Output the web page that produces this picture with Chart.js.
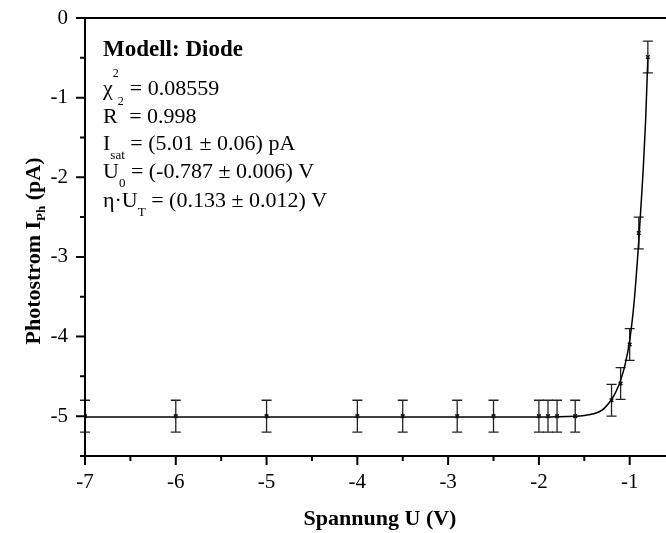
<!DOCTYPE html>
<html>
<head>
<meta charset="utf-8">
<script src="https://cdn.jsdelivr.net/npm/chart.js@4.4.0/dist/chart.umd.min.js"></script>
<style>
  html, body { margin: 0; padding: 0; background: #fff; }
  #wrap { width: 666px; height: 533px; }
</style>
</head>
<body>
<div id="wrap"><canvas id="ivChart" width="666" height="533"></canvas></div>
<script>
// measured points: voltage U (V) and photocurrent (pA), error +-0.2 pA
const uData = [-7, -6, -5, -4, -3.5, -2.9, -2.5, -2, -1.9, -1.8, -1.6, -1.2, -1.1, -1.0, -0.9, -0.8];
const iData = [-5.0, -5.0, -5.0, -5.0, -5.0, -5.0, -5.0, -5.0, -5.0, -5.0, -5.0, -4.8, -4.59, -4.1, -2.7, -0.49];
const iErr = [0.2, 0.2, 0.2, 0.2, 0.2, 0.2, 0.2, 0.2, 0.2, 0.2, 0.2, 0.2, 0.2, 0.2, 0.2, 0.2];

// diode fit curve
const fitU = [-7, -2, -1.6, -1.5, -1.4, -1.3, -1.2, -1.15, -1.1, -1.05, -1.0, -0.95, -0.9, -0.875, -0.85, -0.825, -0.8];
const fitI = [-5.01, -5.01, -5.0, -4.99, -4.97, -4.92, -4.79, -4.69, -4.55, -4.35, -4.05, -3.55, -2.8, -2.35, -1.88, -1.3, -0.5];

const xTicks = [-7, -6, -5, -4, -3, -2, -1];
const xMinor = [-6.5, -5.5, -4.5, -3.5, -2.5, -1.5];
const yTicks = [0, -1, -2, -3, -4, -5];
const yMinor = [-0.5, -1.5, -2.5, -3.5, -4.5, -5.5];

// fit result box, each line as [text, kind] pieces
const fitLines = [
  [["Modell: Diode", "b"]],
  [["\u03C7", "n"], ["2", "sup"], ["  = 0.08559", "n"]],
  [["R", "n"], ["2", "sup"], [" = 0.998", "n"]],
  [["I", "n"], ["sat", "sub"], [" = (5.01 \u00B1 0.06) pA", "n"]],
  [["U", "n"], ["0", "sub"], [" = (-0.787 \u00B1 0.006) V", "n"]],
  [["\u03B7\u00B7U", "n"], ["T", "sub"], [" = (0.133 \u00B1 0.012) V", "n"]]
];
const lineBase = [56, 95, 123, 150, 178, 207];

const SERIF = "'Liberation Serif', 'Times New Roman', serif";

function drawRich(ctx, x, y, parts, size, bold, subDy) {
  parts.forEach(([t, kind]) => {
    let fs = size, dy = 0;
    const w = bold || kind === "b" ? "bold " : "";
    if (kind === "b") fs = size + 1;
    if (kind === "sup") { fs = 12; dy = -18; }
    if (kind === "sub") { fs = 13; dy = subDy; }
    ctx.font = w + fs + "px " + SERIF;
    ctx.fillText(t, x, y + dy);
    x += ctx.measureText(t).width;
  });
}

function richWidth(ctx, parts, size, bold) {
  let w = 0;
  parts.forEach(([t, kind]) => {
    const fs = kind === "sup" ? 12 : kind === "sub" ? 13 : size;
    ctx.font = (bold ? "bold " : "") + fs + "px " + SERIF;
    w += ctx.measureText(t).width;
  });
  return w;
}

const extras = {
  id: "extras",
  afterLayout(chart) {
    // let the plot run to the right edge of the canvas, as in the original
    const x = chart.scales.x;
    chart.chartArea.right = chart.width;
    x.right = chart.width;
    x.width = x.right - x.left;
    x.configure();
  },
  beforeDatasetsDraw(chart) {
    const { ctx, scales: { x, y } } = chart;
    ctx.save();
    ctx.strokeStyle = "#222";
    ctx.lineWidth = 1.3;
    uData.forEach((u, k) => {
      const px = x.getPixelForValue(u);
      const p1 = y.getPixelForValue(iData[k] + iErr[k]);
      const p2 = y.getPixelForValue(iData[k] - iErr[k]);
      ctx.beginPath();
      ctx.moveTo(px, p1); ctx.lineTo(px, p2);
      ctx.moveTo(px - 5, p1); ctx.lineTo(px + 5, p1);
      ctx.moveTo(px - 5, p2); ctx.lineTo(px + 5, p2);
      ctx.stroke();
    });
    ctx.restore();
  },
  afterDraw(chart) {
    const { ctx, chartArea: a, scales: { x, y } } = chart;
    ctx.save();
    ctx.strokeStyle = "#000";
    ctx.lineWidth = 2;
    ctx.beginPath();
    ctx.moveTo(chart.width, a.top); ctx.lineTo(a.left, a.top);
    ctx.lineTo(a.left, a.bottom); ctx.lineTo(chart.width, a.bottom);
    // tick marks
    xTicks.forEach(v => { const p = x.getPixelForValue(v); ctx.moveTo(p, a.bottom); ctx.lineTo(p, a.bottom + 9); });
    xMinor.forEach(v => { const p = x.getPixelForValue(v); ctx.moveTo(p, a.bottom); ctx.lineTo(p, a.bottom + 5); });
    yTicks.forEach(v => { const p = y.getPixelForValue(v); ctx.moveTo(a.left, p); ctx.lineTo(a.left - 9, p); });
    yMinor.forEach(v => { const p = y.getPixelForValue(v); ctx.moveTo(a.left, p); ctx.lineTo(a.left - 5, p); });
    ctx.stroke();

    ctx.fillStyle = "#000";
    ctx.textBaseline = "alphabetic";
    ctx.textAlign = "left";
    fitLines.forEach((parts, k) => drawRich(ctx, 103, lineBase[k], parts, 22, false, 9));

    // axis titles
    const xTitle = [["Spannung U (V)", "n"]];
    const xw = richWidth(ctx, xTitle, 22, true);
    drawRich(ctx, 380 - xw / 2, 525, xTitle, 22, true, 0);

    const yTitle = [["Photostrom I", "n"], ["Ph", "sub"], [" (pA)", "n"]];
    const yw = richWidth(ctx, yTitle, 22, true);
    ctx.translate(40, 251);
    ctx.rotate(-Math.PI / 2);
    drawRich(ctx, -yw / 2, 0, yTitle, 22, true, 5);
    ctx.restore();
  }
};

const ctx = document.getElementById("ivChart").getContext("2d");
new Chart(ctx, {
  type: "scatter",
  data: {
    datasets: [
      {
        label: "Fit",
        data: fitU.map((u, k) => ({ x: u, y: fitI[k] })),
        showLine: true,
        borderColor: "#000",
        borderWidth: 1.5,
        pointRadius: 0,
        cubicInterpolationMode: "monotone",
        order: 2
      },
      {
        label: "Messwerte",
        data: uData.map((u, k) => ({ x: u, y: iData[k] })),
        showLine: false,
        pointStyle: "crossRot",
        pointRadius: 2.5,
        borderWidth: 1.6,
        borderColor: "#111",
        backgroundColor: "#111",
        order: 1
      }
    ]
  },
  options: {
    responsive: false,
    animation: false,
    devicePixelRatio: 1,
    layout: { padding: { top: 18, right: 0, left: 0, bottom: 0 } },
    plugins: { legend: { display: false }, tooltip: { enabled: false } },
    scales: {
      x: {
        type: "linear",
        min: -7,
        max: -0.6,
        grid: { display: false },
        border: { display: false },
        afterBuildTicks: (s) => { s.ticks = xTicks.map(v => ({ value: v })); },
        afterFit: (s) => {
          s.height = 77;
          s.paddingLeft = 0; s.paddingRight = 0; s.paddingTop = 0; s.paddingBottom = 0;
        },
        ticks: {
          padding: 6,
          color: "#000",
          font: { family: SERIF, size: 21 },
          callback: (v) => String(v)
        }
      },
      y: {
        type: "linear",
        min: -5.5,
        max: 0,
        grid: { display: false },
        border: { display: false },
        afterBuildTicks: (s) => { s.ticks = yTicks.map(v => ({ value: v })); },
        afterFit: (s) => {
          s.width = 85;
          s.paddingLeft = 0; s.paddingRight = 0; s.paddingTop = 0; s.paddingBottom = 0;
        },
        ticks: {
          padding: 9,
          color: "#000",
          font: { family: SERIF, size: 21 },
          callback: (v) => String(v)
        }
      }
    }
  },
  plugins: [extras]
});
</script>
</body>
</html>
